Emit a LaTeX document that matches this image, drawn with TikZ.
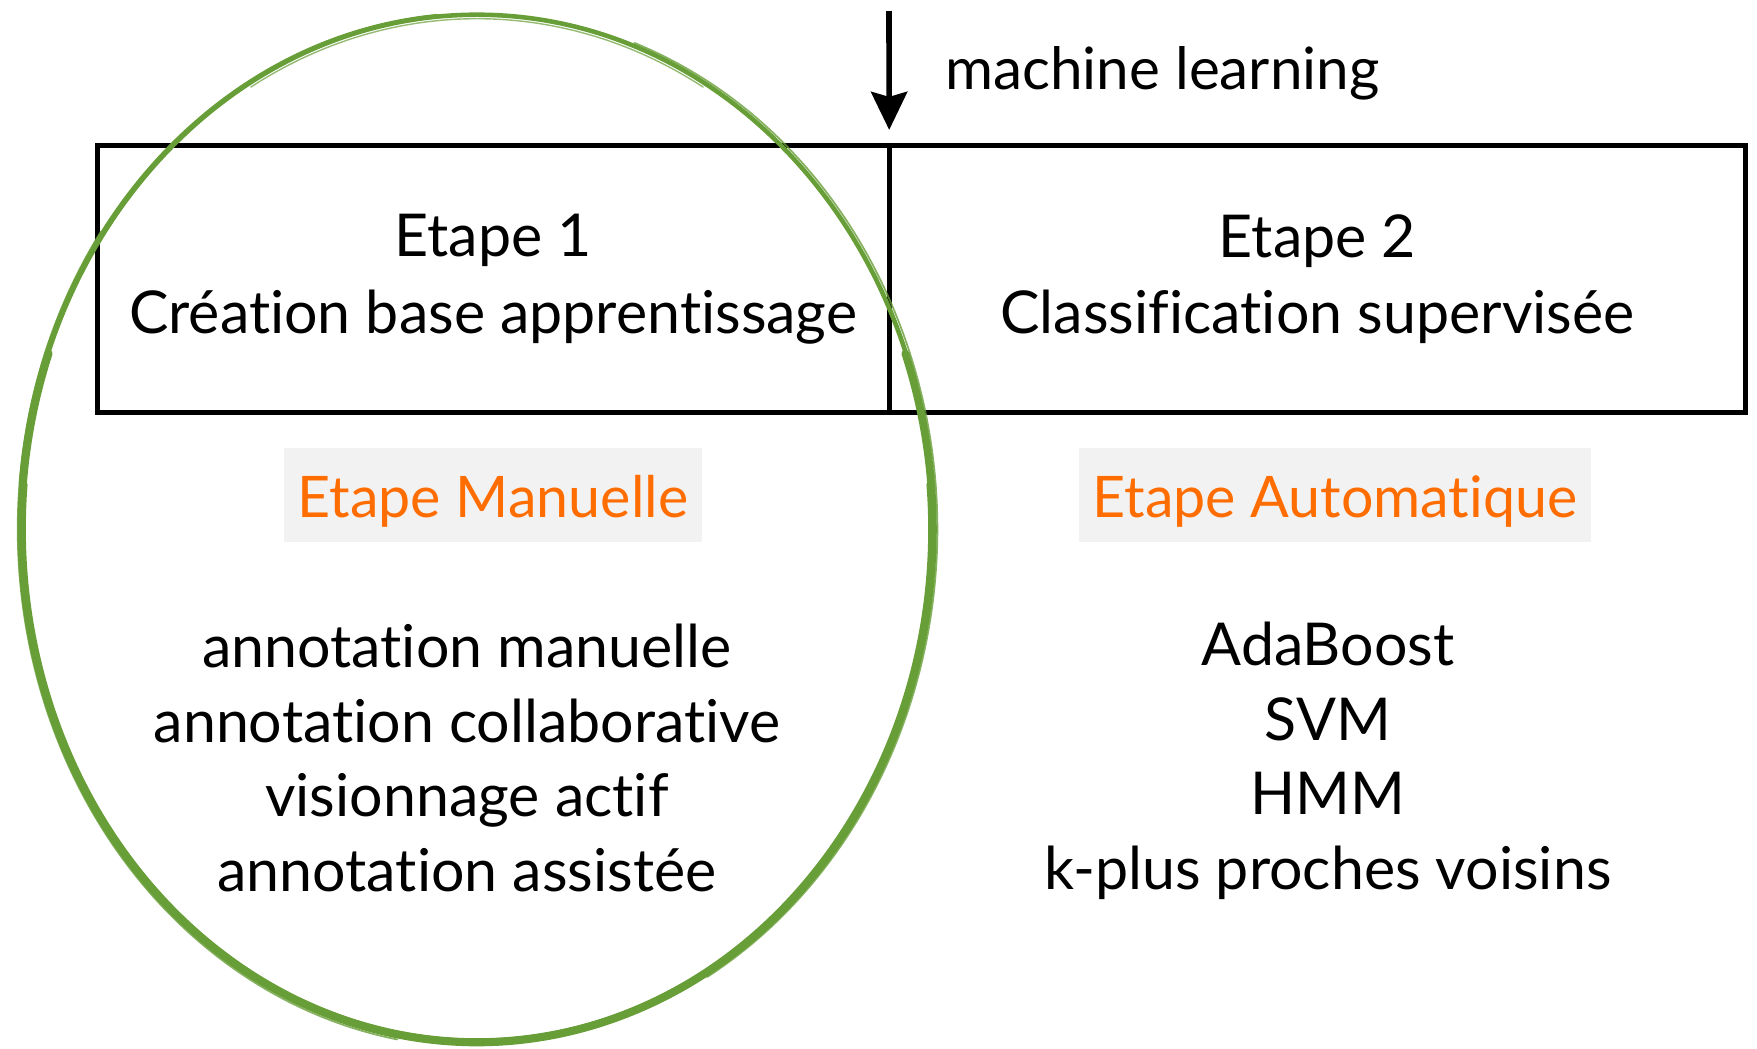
\documentclass[tikz,border=0pt]{standalone}
\usepackage{fontspec}
\setmainfont{Lato}[Ligatures=NoCommon]
\usetikzlibrary{arrows.meta,positioning}

\definecolor{vertpinceau}{RGB}{104,158,56}
\definecolor{orangeetape}{RGB}{255,108,0}
\definecolor{grisfond}{RGB}{242,242,242}

\tikzset{
  etapebox/.style={draw, line width=1.4pt, inner sep=0pt, outer sep=0pt, align=center,
    minimum height=2.66cm, font=\fontsize{16.8}{21.8}\selectfont},
  modebox/.style={fill=grisfond, text=orangeetape, inner xsep=0.14cm, inner ysep=0pt,
    minimum height=0.94cm, text height=0.52cm, text depth=0.08cm, font=\fontsize{16.3}{20}\selectfont},
  liste/.style={align=center, font=\fontsize{16.8}{21.2}\selectfont},
  pinceau/.style={draw=vertpinceau, line width=#1, line cap=round}
}

\begin{document}
\begin{tikzpicture}[x=0.01cm,y=-0.01cm]
\useasboundingbox (0,0) rectangle (1757,1048);

% les deux etapes
\node[etapebox, minimum width=7.915cm] (etape1) at (493.25,279) {Etape 1\\Création base apprentissage};
\node[etapebox, minimum width=8.56cm, right=0pt of etape1] (etape2) {Etape 2\\Classification supervisée};

% machine learning
\coordinate (mlhaut) at (889,11);
\draw[line width=1.6pt, -{Stealth[length=0.38cm,width=0.36cm,inset=0.05cm]}, shorten >=0.16cm] (mlhaut) -- (etape1.north east);
\node[anchor=west, font=\fontsize{16.6}{20}\selectfont] (ml) at (933,73) {machine learning};

% etiquettes
\node[modebox] (manuelle) at (493,495) {Etape Manuelle};
\node[modebox] (auto) at (1335,495) {Etape Automatique};

% listes
\node[liste] (listeman) at (467,758) {annotation manuelle\\annotation collaborative\\visionnage actif\\annotation assistée};
\node[liste] (listeauto) at (1328,761) {AdaBoost\\SVM\\HMM\\k-plus proches voisins};

% cercle vert, trait de pinceau
\begin{scope}[shift={(477,529)}, x=1cm, y=1cm]
  \draw[pinceau=1.3pt] (0,0) ellipse [x radius=4.56cm, y radius=5.14cm];
  \draw[pinceau=2.2pt] (20:4.555cm and 5.13cm) arc [start angle=20, end angle=-200, x radius=4.555cm, y radius=5.13cm];
  \draw[pinceau=1.2pt] (5:4.53cm and 5.11cm) arc [start angle=5, end angle=-185, x radius=4.53cm, y radius=5.11cm];
  \draw[pinceau=1.0pt] (175:4.58cm and 5.15cm) arc [start angle=175, end angle=95, x radius=4.58cm, y radius=5.15cm];
  \draw[pinceau=0.5pt, opacity=0.8] (70:4.60cm and 5.17cm) arc [start angle=70, end angle=-60, x radius=4.60cm, y radius=5.17cm];
  \draw[pinceau=0.5pt, opacity=0.8] (-100:4.59cm and 5.18cm) arc [start angle=-100, end angle=-215, x radius=4.59cm, y radius=5.18cm];
  \draw[pinceau=0.4pt, opacity=0.7] (120:4.52cm and 5.10cm) arc [start angle=120, end angle=60, x radius=4.52cm, y radius=5.10cm];
\end{scope}
\end{tikzpicture}
\end{document}
